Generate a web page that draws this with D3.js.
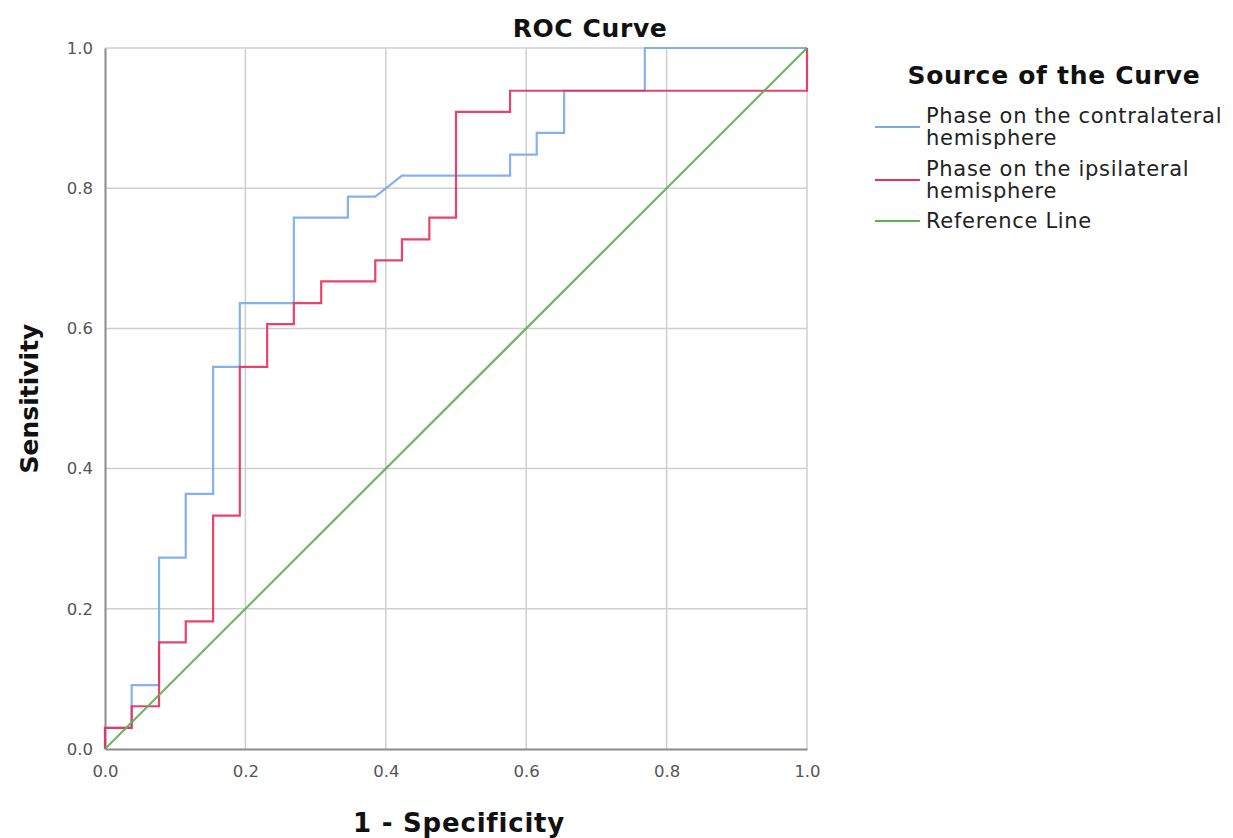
<!DOCTYPE html>
<html>
<head>
<meta charset="utf-8">
<script src="https://cdn.jsdelivr.net/npm/d3@7"></script>
<style>
  body { margin: 0; background: #fff; }
  text { font-family: "DejaVu Sans", sans-serif; }
</style>
</head>
<body>
<div id="chart"></div>
<script>
// ROC coordinates (1 - specificity, sensitivity)
const contraFpr = [0, 0, 0.038, 0.038, 0.077, 0.077, 0.115, 0.115, 0.154, 0.154, 0.192, 0.192, 0.269, 0.269,
    0.346, 0.346, 0.385, 0.423, 0.577, 0.577, 0.615, 0.615, 0.654, 0.654, 0.769, 0.769, 1.0];
const contraTpr = [0, 0.030, 0.030, 0.091, 0.091, 0.273, 0.273, 0.364, 0.364, 0.545, 0.545, 0.636, 0.636, 0.758,
    0.758, 0.788, 0.788, 0.818, 0.818, 0.848, 0.848, 0.879, 0.879, 0.939, 0.939, 1.0, 1.0];

const ipsiFpr = [0, 0, 0.038, 0.038, 0.077, 0.077, 0.115, 0.115, 0.154, 0.154, 0.192, 0.192, 0.231, 0.231,
    0.269, 0.269, 0.308, 0.308, 0.385, 0.385, 0.423, 0.423, 0.462, 0.462, 0.500, 0.500, 0.577, 0.577, 1.0, 1.0];
const ipsiTpr = [0, 0.030, 0.030, 0.061, 0.061, 0.152, 0.152, 0.182, 0.182, 0.333, 0.333, 0.545, 0.545, 0.606,
    0.606, 0.636, 0.636, 0.667, 0.667, 0.697, 0.697, 0.727, 0.727, 0.758, 0.758, 0.909, 0.909, 0.939, 0.939, 1.0];

const refFpr = [0, 1];
const refTpr = [0, 1];

const seriesNames = ["Phase on the contralateral\nhemisphere", "Phase on the ipsilateral\nhemisphere", "Reference Line"];
const seriesColors = ["#78aaea", "#e3305c", "#5fae52"];
const ticks = [0, 0.2, 0.4, 0.6, 0.8, 1.0];

const width = 1233, height = 838;
const margin = { top: 48, right: 426, bottom: 89, left: 105 };

const svg = d3.select("#chart").append("svg")
    .attr("width", width)
    .attr("height", height);

const x = d3.scaleLinear().domain([0, 1]).range([margin.left, width - margin.right]);
const y = d3.scaleLinear().domain([0, 1]).range([height - margin.bottom, margin.top]);

// gridlines
svg.append("g").selectAll("line")
    .data(ticks.slice(1))
    .enter().append("line")
    .attr("x1", d => x(d)).attr("x2", d => x(d))
    .attr("y1", y(0)).attr("y2", y(1))
    .attr("stroke", "#cfcfcf").attr("stroke-width", 1.5);
svg.append("g").selectAll("line")
    .data(ticks.slice(1))
    .enter().append("line")
    .attr("y1", d => y(d)).attr("y2", d => y(d))
    .attr("x1", x(0)).attr("x2", x(1))
    .attr("stroke", "#cfcfcf").attr("stroke-width", 1.5);

// axes
const xAxis = svg.append("g")
    .attr("transform", "translate(0," + y(0) + ")")
    .call(d3.axisBottom(x).tickValues(ticks).tickFormat(d3.format(".1f")).tickSize(0).tickPadding(16));
const yAxis = svg.append("g")
    .attr("transform", "translate(" + x(0) + ",0)")
    .call(d3.axisLeft(y).tickValues(ticks).tickFormat(d3.format(".1f")).tickSize(0).tickPadding(12));

[xAxis, yAxis].forEach(function(a) {
    a.select(".domain").attr("stroke", "#8a8a8a").attr("stroke-width", 2);
    a.selectAll(".tick text")
        .attr("fill", "#555")
        .style("font-size", "16.5px")
        .style("font-family", "'DejaVu Sans', sans-serif");
});

// curves
const line = d3.line().x(d => x(d[0])).y(d => y(d[1]));
const curves = [
    d3.zip(contraFpr, contraTpr),
    d3.zip(ipsiFpr, ipsiTpr),
    d3.zip(refFpr, refTpr)
];
svg.append("g").selectAll("path")
    .data(curves)
    .enter().append("path")
    .attr("d", line)
    .attr("fill", "none")
    .attr("stroke", (d, i) => seriesColors[i])
    .attr("stroke-width", 2.2)
    .attr("stroke-opacity", 0.9);

// title and axis labels
svg.append("text")
    .attr("x", 590).attr("y", 37)
    .attr("text-anchor", "middle")
    .style("font-size", "25px").style("font-weight", "bold")
    .style("letter-spacing", "0.6px")
    .attr("fill", "#111")
    .text("ROC Curve");

svg.append("text")
    .attr("x", 459).attr("y", 832)
    .attr("text-anchor", "middle")
    .style("font-size", "26px").style("font-weight", "bold")
    .style("letter-spacing", "0.8px")
    .attr("fill", "#111")
    .text("1 - Specificity");

svg.append("text")
    .attr("transform", "translate(38," + (y(0) + y(1)) / 2 + ") rotate(-90)")
    .attr("text-anchor", "middle")
    .style("font-size", "25px").style("font-weight", "bold")
    .attr("fill", "#111")
    .text("Sensitivity");

// legend
const legend = svg.append("g").attr("transform", "translate(875,0)");
legend.append("text")
    .attr("x", 179).attr("y", 84)
    .attr("text-anchor", "middle")
    .style("font-size", "25px").style("font-weight", "bold")
    .style("letter-spacing", "0.7px")
    .attr("fill", "#111")
    .text("Source of the Curve");

const firstBaseline = [123, 176, 228];
const lineY = [127, 180, 221];
seriesNames.forEach(function(name, i) {
    const lines = name.split("\n");
    legend.append("line")
        .attr("x1", 0).attr("x2", 45)
        .attr("y1", lineY[i]).attr("y2", lineY[i])
        .attr("stroke", seriesColors[i]).attr("stroke-width", 2);
    lines.forEach(function(t, j) {
        legend.append("text")
            .attr("x", 51).attr("y", firstBaseline[i] + j * 22)
            .style("font-size", "21px")
            .style("letter-spacing", "0.7px")
            .attr("fill", "#222")
            .text(t);
    });
});
</script>
</body>
</html>
